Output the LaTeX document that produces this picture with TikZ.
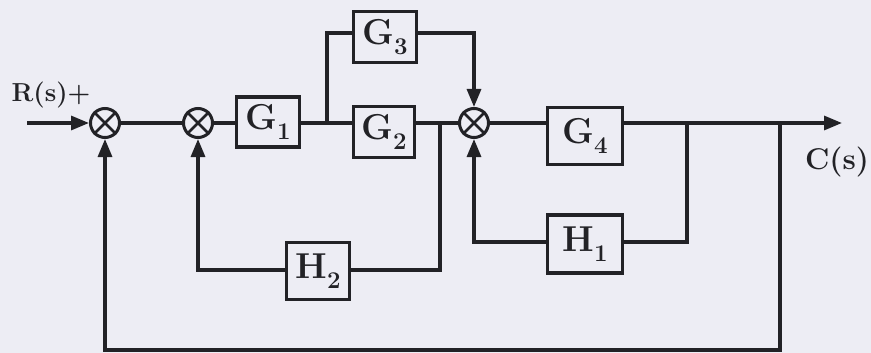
\documentclass[tikz,border=0pt]{standalone}
\usetikzlibrary{arrows.meta}
\definecolor{bg}{RGB}{237,237,244}
\definecolor{ink}{RGB}{34,34,38}
\newcommand{\blab}[2]{\textbf{#1}\raisebox{-0.28em}{\fontsize{24}{24}\selectfont\textbf{#2}}}
\tikzset{
  blk/.style={draw=ink, line width=3.4pt, inner sep=0pt, text=ink,
    font=\fontsize{36}{36}\selectfont},
  sumj/.style={circle, draw=ink, line width=3pt, minimum size=29pt, inner sep=0pt},
  sig/.style={draw=ink, line width=3.2pt},
  arr/.style={sig, -{Triangle[length=18pt,width=14pt]}},
  lbl/.style={text=ink, font=\fontsize{26}{26}\selectfont\bfseries, inner sep=0pt}
}
\begin{document}
\begin{tikzpicture}[x=1pt,y=-1pt]
\fill[bg] (0,0) rectangle (871,353);
\useasboundingbox (0,0) rectangle (871,353);

% summing junctions
\node[sumj] (s1) at (105,123) {};
\node[sumj] (s2) at (198,123) {};
\node[sumj] (s3) at (474,123) {};
\foreach \s in {s1,s2,s3}{
  \draw[ink, line width=2.8pt] (\s.north west) -- (\s.south east)
                              (\s.north east) -- (\s.south west);
}

% blocks
\node[blk, minimum width=63pt, minimum height=50pt] (g1) at (268,122) {\blab{G}{1}};
\node[blk, minimum width=63pt, minimum height=51pt] (g3) at (385,37)  {\blab{G}{3}};
\node[blk, minimum width=61pt, minimum height=51pt] (g2) at (384,132) {\blab{G}{2}};
\node[blk, minimum width=75pt, minimum height=57pt] (g4) at (585,136) {\blab{G}{4}};
\node[blk, minimum width=75pt, minimum height=58pt] (h1) at (585,244) {\blab{H}{1}};
\node[blk, minimum width=63pt, minimum height=57pt] (h2) at (318,271) {\blab{H}{2}};

% labels
\node[lbl] (rs) at (51,95) {R(s)+};
\node[lbl, font=\fontsize{30}{30}\selectfont\bfseries] (cs) at (837,162) {C(s)};

% helper coordinates
\coordinate (in) at (27,123);
\coordinate (b1) at (327,123);
\coordinate (t1) at (327,33);
\coordinate (b2) at (440,123);
\coordinate (c2) at (440,270);
\coordinate (b3) at (687,123);
\coordinate (c3) at (687,242);
\coordinate (b4) at (780,123);
\coordinate (c4) at (780,350);
\coordinate (out) at (842,123);

% forward path
\draw[arr] (in) -- (s1);
\draw[sig] (s1) -- (s2);
\draw[sig] (s2) -- (s2 -| g1.west);
\draw[sig] (g1.east |- b1) -- (b1) -- (b1 -| g2.west);
\draw[sig] (b1) -- (t1) -- (t1 -| g3.west);
\draw[arr] (g3.east |- t1) -- (t1 -| s3) -- (s3);
\draw[sig] (g2.east |- b1) -- (b2) -- (s3);
\draw[sig] (s3) -- (s3 -| g4.west);
\draw[arr] (g4.east |- b3) -- (b3) -- (b4) -- (out);

% feedback paths
\draw[sig] (b2) -- (c2) -- (c2 -| h2.east);
\draw[arr] (h2.west |- c2) -| (s2);
\draw[sig] (b3) -- (c3) -- (c3 -| h1.east);
\draw[arr] (h1.west |- c3) -| (s3);
\draw[arr] (b4) -- (c4) -| (s1);
\end{tikzpicture}
\end{document}
